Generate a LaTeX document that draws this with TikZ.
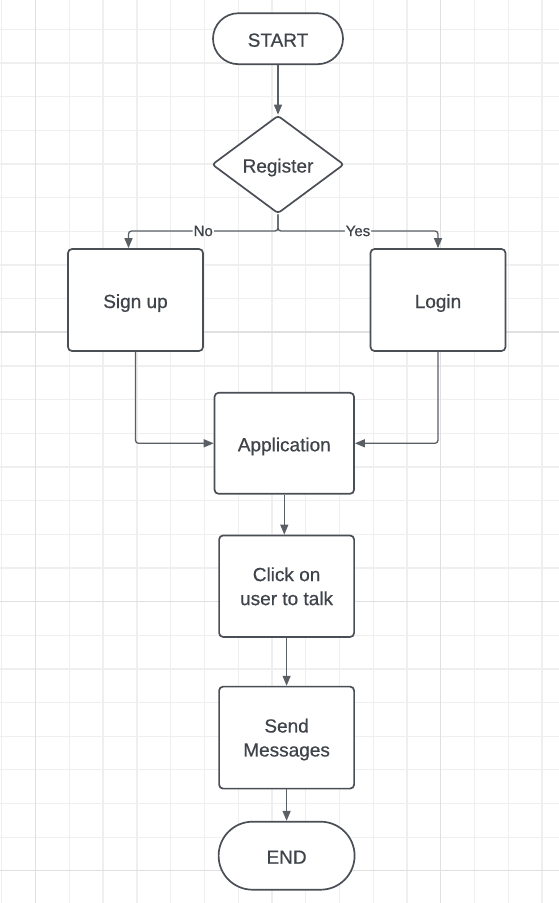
\documentclass[tikz,border=0pt]{standalone}
\usepackage{fontspec}
\setmainfont{Liberation Sans}
\newfontfamily\boxfont{Liberation Sans}[FakeBold=0.6]
\usetikzlibrary{arrows.meta}
\usetikzlibrary{shapes.geometric}
\usepackage{xcolor}
\definecolor{inkgray}{HTML}{4A4F56}
\definecolor{wiregray}{HTML}{5A5F66}
\definecolor{textgray}{HTML}{3F444A}
\definecolor{gridminor}{HTML}{EFEFEF}
\definecolor{gridmajor}{HTML}{E0E0E0}
\tikzset{
  step box/.style={draw=inkgray, line width=1.7pt, rounded corners=4pt, fill=white,
    minimum width=135pt, minimum height=102pt, align=center, text=textgray,
    text depth=0pt, font=\boxfont\fontsize{19}{24}\selectfont},
  one line/.style={text height=16pt},
  terminal/.style={step box, one line, minimum width=130pt},
  decision/.style={step box, one line, diamond, rounded corners=3pt, inner sep=0pt,
    minimum width=132pt, minimum height=98pt},
  wire/.style={wiregray, line width=1.3pt, rounded corners=3pt, -{Triangle[length=10pt,width=8pt]}},
  answer/.style={fill=white, inner sep=1pt, text=textgray, font=\boxfont\fontsize{15}{15}\selectfont}
}
\begin{document}
\begin{tikzpicture}[x=1pt, y=-1pt]
\fill[white] (0,0) rectangle (559,903);
\useasboundingbox (0,0) rectangle (559,903);
% grid paper
\foreach \k [evaluate=\k as \gx using 35.6+33.76*\k] in {-1,0,...,15} {
  \draw[gridminor, line width=1.3pt] (\gx,0)--(\gx,903);
}
\foreach \k [evaluate=\k as \gy using 29.3+33.66*\k] in {0,1,...,25} {
  \draw[gridminor, line width=1.3pt] (0,\gy)--(559,\gy);
}
\foreach \gx in {35.6,440.7} \draw[gridmajor, line width=1.5pt] (\gx,0)--(\gx,903);
\foreach \gy in {332.2,601.5,870.7} \draw[gridmajor, line width=1.5pt] (0,\gy)--(559,\gy);
% blocks
\node[terminal, minimum height=51pt, rounded corners=25.5pt] (start) at (278,38.7) {START};
\node[decision] (reg) at (278,164.5) {Register};
\node[step box, one line] (signup) at (135.5,300) {Sign up};
\node[step box, one line] (login) at (438,300) {Login};
\node[step box, one line, minimum width=139.5pt, minimum height=101pt] (app) at (284.3,443.3) {Application};
\node[step box, minimum height=101.5pt] (click) at (286.6,586.2) {Click on\\user to talk};
\node[step box] (send) at (286.6,737.6) {Send\\Messages};
\node[terminal, minimum width=136pt, minimum height=68pt, rounded corners=34pt] (end) at (286.6,855.7) {END};
\coordinate (split) at (278,231);
% connectors
\draw[wire] (start) -- (reg);
\draw[wire] (reg.south) -- (split) -| node[answer, pos=0.25]{No} ([xshift=-7pt]signup.north);
\draw[wire] (reg.south) -- (split) -| node[answer, pos=0.25]{Yes} (login.north);
\draw[wire] (signup.south) |- (app.west);
\draw[wire] (login.south) |- (app.east);
\draw[wire] (app.south) -- (app.south |- click.north);
\draw[wire] (click) -- (send);
\draw[wire] (send) -- (end);
\end{tikzpicture}
\end{document}
